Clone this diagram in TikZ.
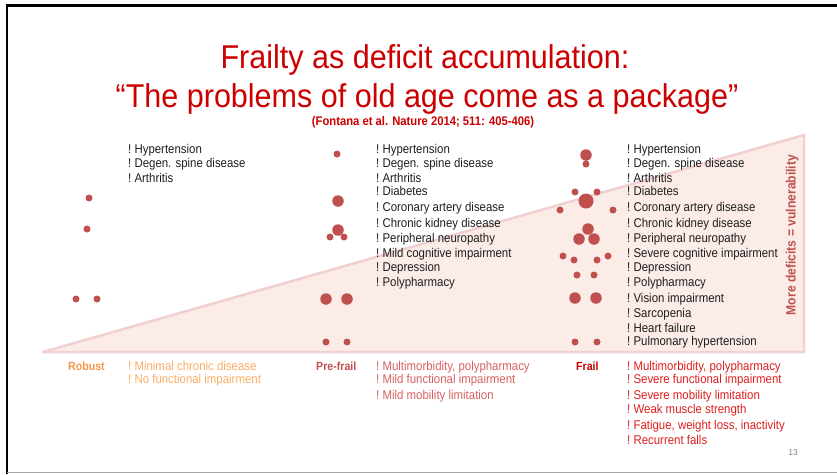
\documentclass[tikz,border=0pt]{standalone}
\usepackage{fontspec}
\setmainfont{Liberation Sans}
\newfontfamily\narrowtitle[FakeStretch=0.925]{Liberation Sans}
\newfontfamily\narrowlist[FakeStretch=0.9]{Liberation Sans}
\definecolor{titlered}{RGB}{204,0,0}
\definecolor{dotred}{RGB}{192,80,77}
\definecolor{trifill}{RGB}{251,236,232}
\definecolor{triline}{RGB}{240,208,208}
\definecolor{robustor}{RGB}{247,150,70}
\definecolor{robustlist}{RGB}{250,172,100}
\definecolor{prefrailc}{RGB}{192,80,77}
\definecolor{prefraillist}{RGB}{214,96,96}
\definecolor{frailc}{RGB}{192,0,0}
\definecolor{fraillist}{RGB}{222,30,30}
\definecolor{listblack}{RGB}{30,30,30}
\begin{document}
\begin{tikzpicture}[x=1pt,y=-1pt,
  sdot/.style={circle,fill=dotred,inner sep=0pt,minimum size=7pt},
  mdot/.style={circle,fill=dotred,inner sep=0pt,minimum size=11.5pt},
  bdot/.style={circle,fill=dotred,inner sep=0pt,minimum size=15pt},
  item/.style={anchor=base west,inner sep=0pt,font=\narrowlist\fontsize{12.7}{14}\selectfont},
  stage/.style={anchor=base west,inner sep=0pt,font=\narrowlist\fontsize{11.8}{13}\selectfont\bfseries}]
\useasboundingbox (0,0) rectangle (837,474);
% frame
\draw[black,line width=2.5pt] (7,474) -- (7,5.5) -- (837,5.5);
\draw[gray!70,line width=1.2pt] (7,472.5) -- (837,472.5);
% triangle
\filldraw[fill=trifill,draw=triline,line width=2.5pt,line join=round] (43,352) -- (804,135) -- (804,352) -- cycle;
% title
\node[anchor=base,text=titlered,font=\narrowtitle\fontsize{33}{36}\selectfont] (t1) at (425,68.5) {Frailty as deficit accumulation:};
\node[anchor=base,text=titlered,font=\narrowtitle\fontsize{33}{36}\selectfont] (t2) at (427,107) {“The problems of old age come as a package”};
\node[anchor=base,text=titlered,font=\narrowlist\fontsize{12.5}{13}\selectfont\bfseries] (t3) at (423,125) {(Fontana et al. Nature 2014; 511: 405-406)};
% robust dots
\node[sdot] (r1) at (89,198) {};
\node[sdot] (r2) at (87,229) {};
\node[sdot] (r3) at (76,299) {};
\node[sdot] (r4) at (97,299) {};
% pre-frail dots
\node[sdot] (p1) at (337,154) {};
\node[mdot] (p2) at (338,201) {};
\node[sdot] (p4) at (330,237) {};
\node[sdot] (p5) at (344,237) {};
\node[mdot] (p3) at (338,230) {};
\node[mdot] (p6) at (326,299) {};
\node[mdot] (p7) at (347,299) {};
\node[sdot] (p8) at (326,342) {};
\node[sdot] (p9) at (347,342) {};
% frail dots
\node[mdot] (f1) at (586,155) {};
\node[sdot] (f2) at (586,164) {};
\node[sdot] (f3) at (575,192) {};
\node[sdot] (f4) at (597,192) {};
\node[bdot] (f5) at (586,201) {};
\node[sdot] (f6) at (560,210) {};
\node[sdot] (f7) at (613,210) {};
\node[mdot] (f8) at (588,229) {};
\node[mdot] (f9) at (579,239) {};
\node[mdot] (f10) at (594,239) {};
\node[sdot] (f11) at (563,256) {};
\node[sdot] (f12) at (574,260) {};
\node[sdot] (f13) at (597,260) {};
\node[sdot] (f14) at (608,256) {};
\node[sdot] (f15) at (577,275) {};
\node[sdot] (f16) at (594,275) {};
\node[mdot] (f17) at (575,298) {};
\node[mdot] (f18) at (596,298) {};
\node[sdot] (f19) at (575,342) {};
\node[sdot] (f20) at (597,342) {};
% deficit lists
\foreach \y/\t [count=\i] in {153/Hypertension,167/Degen. spine disease,182/Arthritis}
  \node[item,text=listblack] (ra\i) at (128,\y) {!\ \t};
\foreach \y/\t [count=\i] in {153/Hypertension,167/Degen. spine disease,182/Arthritis,195/Diabetes,211/Coronary artery disease,227/Chronic kidney disease,242/Peripheral neuropathy,257/Mild cognitive impairment,271/Depression,286/Polypharmacy}
  \node[item,text=listblack] (pa\i) at (376,\y) {!\ \t};
\foreach \y/\t [count=\i] in {153/Hypertension,167/Degen. spine disease,182/Arthritis,195/Diabetes,211/Coronary artery disease,227/Chronic kidney disease,242/Peripheral neuropathy,257/Severe cognitive impairment,271/Depression,286/Polypharmacy,302/Vision impairment,317/Sarcopenia,332/Heart failure,345/Pulmonary hypertension}
  \node[item,text=listblack] (fa\i) at (627,\y) {!\ \t};
% stage labels
\node[stage,text=robustor] (robust) at (68,370) {Robust};
\node[stage,text=prefrailc] (prefrail) at (316,370) {Pre-frail};
\node[stage,text=frailc] (frail) at (576,370) {Frail};
\foreach \y/\t [count=\i] in {370/Minimal chronic disease,383/No functional impairment}
  \node[item,text=robustlist] (rb\i) at (128,\y) {!\ \t};
\foreach \y/\t [count=\i] in {370/{Multimorbidity, polypharmacy},383/Mild functional impairment,399/Mild mobility limitation}
  \node[item,text=prefraillist] (pb\i) at (376,\y) {!\ \t};
\foreach \y/\t [count=\i] in {370/{Multimorbidity, polypharmacy},383/Severe functional impairment,399/Severe mobility limitation,413/Weak muscle strength,429/{Fatigue, weight loss, inactivity},444/Recurrent falls}
  \node[item,text=fraillist] (fb\i) at (627,\y) {!\ \t};
% vertical label
\node[rotate=90,text=dotred,font=\narrowlist\fontsize{13.5}{15}\selectfont\bfseries] (vuln) at (792,235) {More deficits = vulnerability};
% page number
\node[text=gray,font=\fontsize{8.5}{10}\selectfont] (pg) at (793,453) {13};
\end{tikzpicture}
\end{document}
